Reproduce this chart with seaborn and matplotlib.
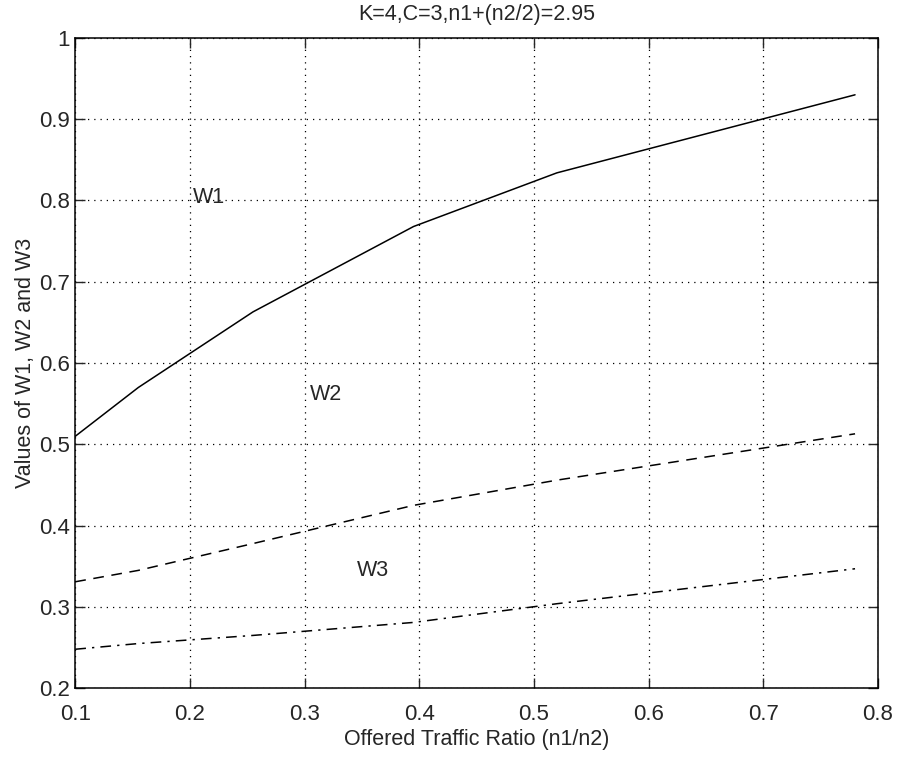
"""
W1, W2, W3 versus offered traffic ratio
"""

import matplotlib
matplotlib.use('Agg')
import matplotlib.pyplot as plt
import pandas as pd
import seaborn as sns

# values
ratio = [0.1, 0.155, 0.255, 0.395, 0.52, 0.78]
w1 = [0.510, 0.570, 0.663, 0.768, 0.834, 0.930]
w2 = [0.331, 0.345, 0.378, 0.425, 0.456, 0.513]
w3 = [0.248, 0.255, 0.265, 0.281, 0.304, 0.347]
curve_names = ['W1', 'W2', 'W3']
x_ticks = [0.1, 0.2, 0.3, 0.4, 0.5, 0.6, 0.7, 0.8]
y_ticks = [0.2, 0.3, 0.4, 0.5, 0.6, 0.7, 0.8, 0.9, 1]

data = pd.DataFrame({'ratio': ratio * 3,
                     'value': w1 + w2 + w3,
                     'curve': [n for n in curve_names for _ in ratio]})

sns.set_style('ticks')
plt.rcParams['font.family'] = ['Liberation Sans', 'DejaVu Sans']

fig = plt.figure(figsize=(9.07, 7.58), dpi=100)
ax = fig.add_axes([0.083, 0.092, 0.885, 0.858])

styles = {'W1': '-', 'W2': (0, (7, 5)), 'W3': (0, (7, 4, 1.5, 4))}
for name in curve_names:
    sub = data[data['curve'] == name]
    sns.lineplot(data=sub, x='ratio', y='value', ax=ax, color='black',
                 linewidth=1.1, linestyle=styles[name], legend=False)

fs = 15.5
ax.set_xlim(0.1, 0.8)
ax.set_ylim(0.2, 1)
ax.set_xticks(x_ticks)
ax.set_yticks(y_ticks)
ax.set_xticklabels([f'{t:g}' for t in x_ticks], fontsize=16)
ax.set_yticklabels([f'{t:g}' for t in y_ticks], fontsize=16)
ax.tick_params(direction='in', top=True, right=True, length=7, width=1)
ax.tick_params(axis='x', pad=11)
ax.tick_params(axis='y', pad=4)
ax.grid(True, color='black', linestyle=(0, (1, 4)), linewidth=0.9)
for sp in ax.spines.values():
    sp.set_linewidth(1.1)
    sp.set_color('black')

ax.set_xlabel('Offered Traffic Ratio (n1/n2)', fontsize=fs, labelpad=3)
ax.set_ylabel('Values of W1, W2 and W3', fontsize=fs, labelpad=2)
ax.set_title('K=4,C=3,n1+(n2/2)=2.95', fontsize=fs, pad=13)

ax.text(0.203, 0.797, 'W1', fontsize=fs)
ax.text(0.305, 0.555, 'W2', fontsize=fs)
ax.text(0.346, 0.338, 'W3', fontsize=fs)

fig.savefig('out.png', dpi=100)
